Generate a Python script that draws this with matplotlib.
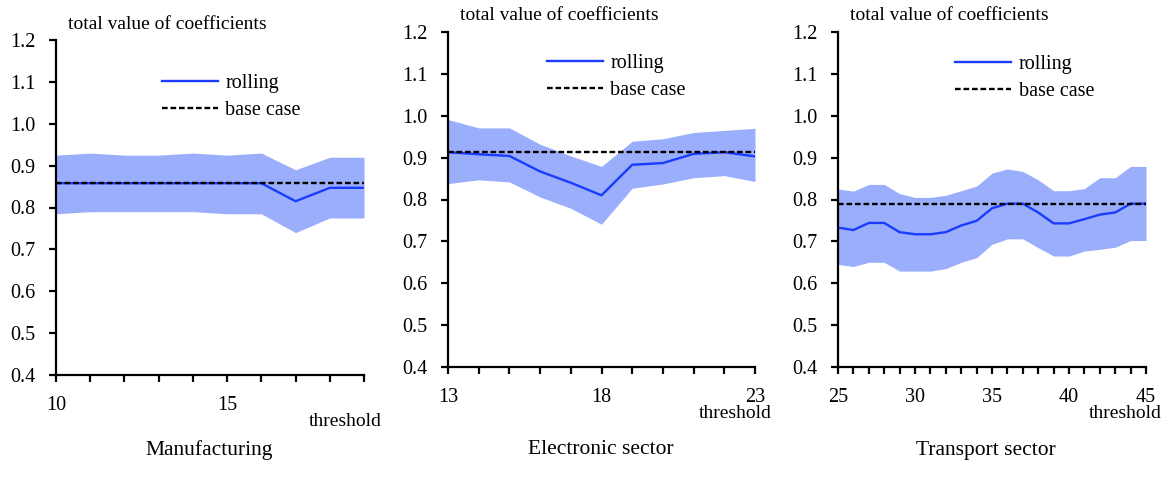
import matplotlib
matplotlib.use("Agg")
import matplotlib.pyplot as plt

plt.rcParams['font.family'] = ['Liberation Serif', 'DejaVu Serif']

# ---- data ----
manu_x = list(range(10, 20))
manu_roll = [0.858, 0.858, 0.858, 0.858, 0.858, 0.858, 0.858, 0.815, 0.847, 0.847]
manu_up = [0.925, 0.930, 0.925, 0.925, 0.930, 0.925, 0.930, 0.890, 0.920, 0.920]
manu_lo = [0.785, 0.790, 0.790, 0.790, 0.790, 0.785, 0.785, 0.740, 0.775, 0.775]
manu_base = 0.858
manu_xlabels = [10, 15]

elec_x = list(range(13, 24))
elec_roll = [0.913, 0.908, 0.904, 0.867, 0.840, 0.810, 0.883, 0.887, 0.909, 0.913, 0.903]
elec_up = [0.991, 0.971, 0.971, 0.932, 0.904, 0.879, 0.939, 0.945, 0.960, 0.965, 0.970]
elec_lo = [0.838, 0.847, 0.842, 0.806, 0.779, 0.741, 0.827, 0.837, 0.852, 0.857, 0.843]
elec_base = 0.914
elec_xlabels = [13, 18, 23]

trans_x = list(range(25, 46))
trans_roll = [0.733, 0.727, 0.744, 0.744, 0.722, 0.717, 0.717, 0.722, 0.738, 0.749, 0.779,
              0.790, 0.790, 0.769, 0.743, 0.743, 0.753, 0.764, 0.769, 0.790, 0.790]
trans_up = [0.825, 0.820, 0.836, 0.836, 0.814, 0.805, 0.805, 0.810, 0.821, 0.832, 0.863,
            0.873, 0.867, 0.847, 0.821, 0.821, 0.826, 0.852, 0.852, 0.879, 0.879]
trans_lo = [0.645, 0.640, 0.650, 0.650, 0.629, 0.629, 0.629, 0.635, 0.650, 0.661, 0.693,
            0.706, 0.706, 0.685, 0.665, 0.665, 0.677, 0.681, 0.686, 0.702, 0.702]
trans_base = 0.790
trans_xlabels = [25, 30, 35, 40, 45]

titles = ["Manufacturing", "Electronic sector", "Transport sector"]
y_ticks = [0.4, 0.5, 0.6, 0.7, 0.8, 0.9, 1.0, 1.1, 1.2]

panels = [
    (manu_x, manu_roll, manu_up, manu_lo, manu_base, manu_xlabels),
    (elec_x, elec_roll, elec_up, elec_lo, elec_base, elec_xlabels),
    (trans_x, trans_roll, trans_up, trans_lo, trans_base, trans_xlabels),
]

W, H = 1169, 491
fig = plt.figure(figsize=(W / 100, H / 100), dpi=100)

# axes boxes in pixels: left, right, top, bottom
boxes = [(56, 364, 40, 375), (448, 755, 32, 367), (838, 1146, 32, 367)]
legend_anchor = [(0.318, 0.922), (0.295, 0.958), (0.354, 0.955)]
thresh_pos = [(382, 422), (772, 413), (1162, 413)]
title_pos = [(209, 450), (601, 450), (986, 450)]

FILL = "#9aaefc"
LINE = "#1a3cff"
FS = 14.5

for i, ((x, roll, up, lo, base, xl), (l, r, t, b)) in enumerate(zip(panels, boxes)):
    ax = fig.add_axes([l / W, (H - b) / H, (r - l) / W, (b - t) / H])
    ax.fill_between(x, lo, up, color=FILL, linewidth=0, zorder=1)
    ax.plot(x, roll, color=LINE, lw=1.7, label="rolling", zorder=3)
    ax.plot([x[0], x[-1]], [base, base], color="black", lw=1.7, ls=(0, (2.4, 1.2)),
            label="base case", zorder=4)
    ax.set_xlim(x[0], x[-1])
    ax.set_ylim(0.4, 1.2)
    ax.set_yticks(y_ticks)
    ax.set_yticklabels([f"{v:.1f}" for v in y_ticks])
    ax.set_xticks(x)
    ax.set_xticklabels([str(v) if v in xl else "" for v in x])
    for s in ["top", "right"]:
        ax.spines[s].set_visible(False)
    for s in ["left", "bottom"]:
        ax.spines[s].set_linewidth(1.6)
    ax.tick_params(axis="both", direction="out", length=5, width=1.6, labelsize=FS, pad=10)
    ax.spines["left"].set_zorder(5)
    ax.legend(loc="upper left", bbox_to_anchor=legend_anchor[i], frameon=False,
              fontsize=FS, handlelength=2.8, handletextpad=0.35, labelspacing=0.4,
              borderaxespad=0)
    ax.text(12 / (r - l), 1.0 + 16 / (b - t), "total value of coefficients",
            transform=ax.transAxes, fontsize=14, ha="left", va="center")
    tx, ty = thresh_pos[i]
    fig.text(tx / W, 1 - ty / H, "threshold", fontsize=14, ha="right", va="center")
    px, py = title_pos[i]
    fig.text(px / W, 1 - py / H, titles[i], fontsize=15.5, ha="center", va="center")

fig.savefig("out.png", dpi=100)
